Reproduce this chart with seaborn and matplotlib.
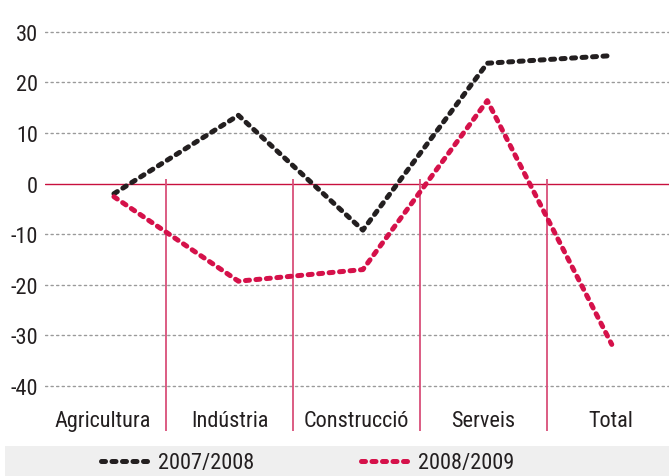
import numpy as np
import pandas as pd
import matplotlib
matplotlib.use('Agg')
import matplotlib.pyplot as plt
import seaborn as sns
from matplotlib.lines import Line2D

sns.set_style('white')
plt.rcParams['font.family'] = ['Roboto Condensed', 'DejaVu Sans']
plt.rcParams['axes.unicode_minus'] = False

# data
categories = ['Agricultura', 'Indústria', 'Construcció', 'Serveis', 'Total']
series_names = ['2007/2008', '2008/2009']
v_2007_2008 = [-2.0, 13.5, -9.2, 23.8, 25.3]
v_2008_2009 = [-2.6, -19.3, -17.0, 16.4, -31.8]
y_ticks = [30, 20, 10, 0, -10, -20, -30, -40]

black = '#231f20'
red = '#d5114a'
txt_col = '#231f20'
fs = 16

df = pd.DataFrame({
    'pos': list(range(len(categories))) * 2,
    'value': v_2007_2008 + v_2008_2009,
    'serie': [series_names[0]] * 5 + [series_names[1]] * 5,
})

fig = plt.figure(figsize=(6.69, 4.77), dpi=100)
ax = fig.add_axes([45 / 669, 37 / 477, 624 / 669, 440 / 477])

# grid and reference lines
for t in y_ticks:
    if t == 0:
        ax.axhline(0, color='#c8103e', lw=1.0, zorder=1)
    else:
        ax.axhline(t, color='#9a9a9a', lw=1.0, ls=(0, (1.6, 2.4)), zorder=1)

seps = [0.42, 1.44, 2.46, 3.48]
ax.vlines(seps, -48.9, 1.0, color='#d94f7a', lw=1.3, zorder=1)

lw = 3.6
dash = (0.8, 1.3)
sns.lineplot(data=df, x='pos', y='value', hue='serie', style='serie',
             palette={series_names[0]: black, series_names[1]: red},
             dashes={series_names[0]: dash, series_names[1]: dash},
             linewidth=lw, legend=False, ax=ax, zorder=3)
for ln in ax.get_lines():
    ln.set_dash_capstyle('round')
    ln.set_solid_capstyle('round')

ax.set_xlim(-0.554, 4.46)
ax.set_ylim(-50.5, 36.5)
ax.set_xticks([])
ax.set_yticks(y_ticks)
ax.set_yticklabels([str(t) for t in y_ticks], fontsize=fs, color=txt_col)
ax.tick_params(axis='y', length=0, pad=5)
ax.set_xlabel('')
ax.set_ylabel('')
for s in ax.spines.values():
    s.set_visible(False)

# category labels between separators
edges = [-0.6] + seps + [4.50]
for i, c in enumerate(categories):
    ax.text((edges[i] + edges[i + 1]) / 2, -46.9, c, ha='center', va='center',
            fontsize=fs, color=txt_col)

# legend band
lax = fig.add_axes([5 / 669, 0, 664 / 669, 30 / 477])
lax.set_facecolor('#efefef')
lax.set_xticks([])
lax.set_yticks([])
for s in lax.spines.values():
    s.set_visible(False)
for k, (name, col) in enumerate(zip(series_names, [black, red])):
    h = Line2D([], [], color=col, lw=lw, ls=(0, dash), dash_capstyle='round')
    fig.legend([h], [name], loc='center left',
               bbox_to_anchor=([101, 361][k] / 669, 13 / 477),
               frameon=False, fontsize=fs, handlelength=2.15, handletextpad=0.4,
               borderpad=0, borderaxespad=0, labelcolor=txt_col)

fig.savefig('out.png', dpi=100)
